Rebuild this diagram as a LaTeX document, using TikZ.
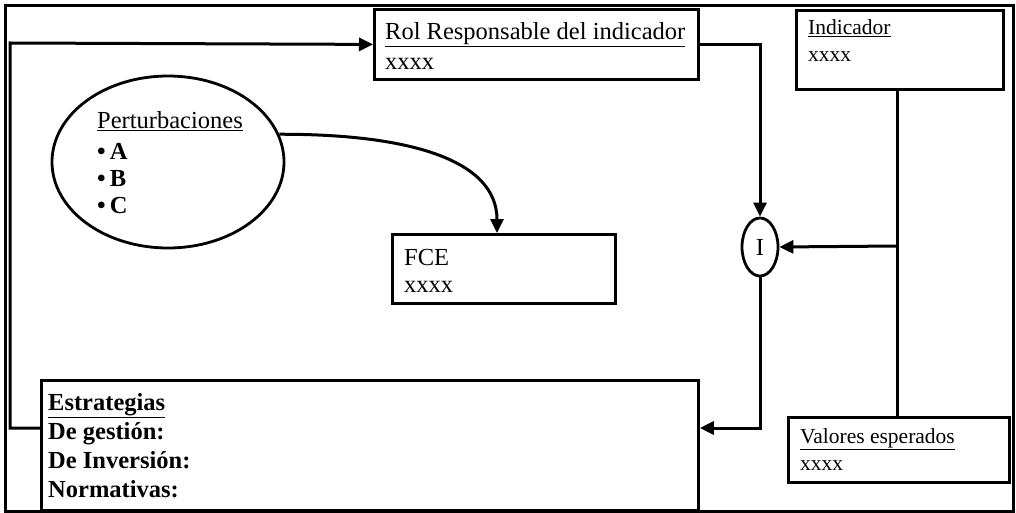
\documentclass[tikz,border=0pt]{standalone}
\usepackage{fontspec}
\setmainfont{Liberation Serif}
\usetikzlibrary{arrows.meta,shapes.geometric,calc}
\begin{document}
\begin{tikzpicture}[x=1pt,y=-1pt,
  box/.style={draw,line width=2.8pt,rectangle,inner sep=0pt,anchor=north west},
  conn/.style={line width=3pt},
  arr/.style={conn,-{Triangle[length=14pt,width=13pt]}},
  txt/.style={anchor=base west,inner sep=0pt,font=\fontsize{24.5}{28}\selectfont},
  stxt/.style={anchor=base west,inner sep=0pt,font=\fontsize{21.5}{24}\selectfont},
  btxt/.style={anchor=base west,inner sep=0pt,font=\fontsize{24.5}{28}\selectfont\bfseries}]
\useasboundingbox (0,0) rectangle (1016,513);
\node[draw,line width=2.8pt,rectangle,inner sep=0pt,anchor=north west,minimum width=1008pt,minimum height=506pt] (frame) at (4,4) {};
% boxes
\node[box,minimum width=324pt,minimum height=70pt] (rol) at (373,8) {};
\node[box,minimum width=207pt,minimum height=79pt] (ind) at (795,9) {};
\node[box,minimum width=223pt,minimum height=69pt] (fce) at (391,233) {};
\node[box,minimum width=221pt,minimum height=65pt] (val) at (787,416) {};
\node[box,minimum width=657pt,minimum height=130pt] (estr) at (40,379) {};
\node[draw,line width=2.8pt,ellipse,inner sep=0pt,minimum width=232pt,minimum height=172pt] (pert) at (168,162) {};
\node[draw,line width=2.8pt,ellipse,inner sep=0pt,minimum width=36pt,minimum height=58pt,font=\fontsize{24.5}{28}\selectfont] (I) at (760,247) {I};
% texts
\node[txt] (t1) at (385,40) {\underline{Rol Responsable del indicador}};
\node[txt] (t2) at (385,70) {xxxx};
\node[stxt] (t3) at (808,35) {\underline{Indicador}};
\node[stxt] (t4) at (808,62) {xxxx};
\node[txt] (t5) at (404,265) {FCE};
\node[txt] (t6) at (404,292) {xxxx};
\node[stxt] (t7) at (800,443) {\underline{Valores esperados}};
\node[stxt] (t8) at (800,470) {xxxx};
\node[txt] (t9) at (97,129) {\underline{Perturbaciones}};
\node[btxt] (t10) at (97,160) {\textbullet\,A};
\node[btxt] (t11) at (97,186) {\textbullet\,B};
\node[btxt] (t12) at (97,213) {\textbullet\,C};
\node[btxt] (t13) at (48,410) {\underline{Estrategias}};
\node[btxt] (t14) at (48,439) {De gestión:};
\node[btxt] (t15) at (48,468) {De Inversión:};
\node[btxt] (t16) at (48,497) {Normativas:};
% connectors
\coordinate (lc) at (10,43);
\coordinate (br) at (897,246);
\coordinate (ein) at ($(estr.north west)+(0,49)$);
\coordinate (eout) at ($(estr.north east)+(0,49)$);
\coordinate (fin) at ($(fce.north west)+(106,0)$);
\draw[arr] (ein) -| (lc) -- (rol.west);
\draw[arr] (rol.east) -| (I.north);
\draw[conn] (br |- ind.south) -- (br |- val.north);
\draw[arr] (br) -- (I.east);
\draw[arr] (I.south) |- (eout);
\draw[arr] (pert.14) .. controls (410,134) and (497,160) .. (fin);
\end{tikzpicture}
\end{document}
